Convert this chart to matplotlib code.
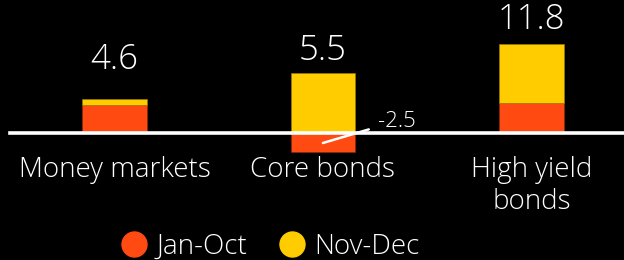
import matplotlib

matplotlib.use("Agg")
import matplotlib.pyplot as plt
from matplotlib.lines import Line2D

plt.rcParams["font.family"] = ["Open Sans", "DejaVu Sans"]
plt.rcParams["font.weight"] = "light"

# ── data ──
categories = ["Money markets", "Core bonds", "High yield\nbonds"]
jan_oct = [3.7, -2.5, 4.0]
nov_dec = [0.9, 8.0, 7.8]
totals = [4.6, 5.5, 11.8]
series_labels = ["Jan-Oct", "Nov-Dec"]

# extra lift of the total labels above the bar tops (data units)
label_lift = [5.1, 2.9, 3.3]

RED = "#FF4A12"
YELLOW = "#FFCC00"
BG = "#000000"

fig = plt.figure(figsize=(6.24, 2.6), dpi=100, facecolor=BG)
# axes spans full width, from top of figure down to just under the negative bar
ax = fig.add_axes([0, 105 / 260, 1, 155 / 260])
ax.set_facecolor(BG)

x = list(range(len(categories)))
width = 0.31

ax.bar(x, jan_oct, width, color=RED, edgecolor="#8a2a08", linewidth=0.4, zorder=2)
bottoms = [0 if v < 0 else v for v in jan_oct]
ax.bar(x, nov_dec, width, bottom=bottoms, color=YELLOW, edgecolor="#a08000",
       linewidth=0.4, zorder=2)

# zero line
ax.axhline(0, xmin=10 / 624, xmax=1, color="white", linewidth=2.6, zorder=3)

# totals above bars
for xi, jo, nd, tot, lift in zip(x, jan_oct, nov_dec, totals, label_lift):
    top = max(jo, 0) + nd
    ax.text(xi, top + lift, f"{tot}", color="white", fontsize=25,
            ha="center", va="center")

# negative value callout
neg = jan_oct[1]
ax.annotate(f"{neg}", xy=(1.0, -1.33), xytext=(1.265, 1.6),
            color="white", fontsize=16, ha="left", va="center",
            arrowprops=dict(arrowstyle="-", color="white", lw=1.8,
                            shrinkA=5, shrinkB=0),
            zorder=4)

ax.set_xlim(-0.549, 2.444)
ax.set_ylim(-2.93, 17.73)
ax.set_xticks(x)
ax.set_xticklabels(categories, color="white", fontsize=20, linespacing=1.15)
ax.tick_params(axis="x", length=0, pad=1)
ax.set_yticks([])
for s in ax.spines.values():
    s.set_visible(False)

handles = [
    Line2D([], [], marker="o", linestyle="none", markersize=18,
           markerfacecolor=c, markeredgecolor=c)
    for c in (RED, YELLOW)
]
fig.legend(handles, series_labels, loc="center", ncol=2,
           bbox_to_anchor=(270 / 624, 1 - 247 / 260), frameon=False,
           fontsize=20, labelcolor="white", handletextpad=0.3,
           columnspacing=1.1, handlelength=1.0)

fig.savefig("out.png", dpi=100, facecolor=BG)
